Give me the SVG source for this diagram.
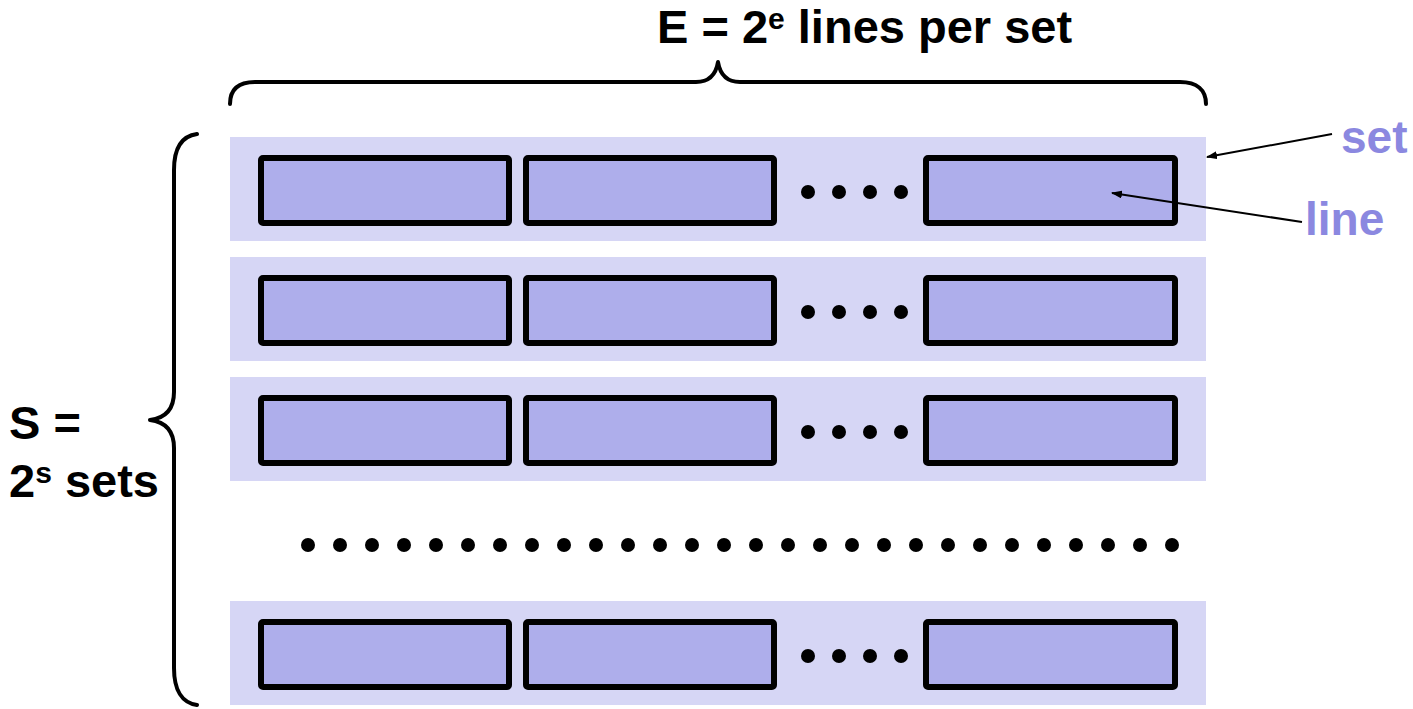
<svg xmlns="http://www.w3.org/2000/svg" width="1413" height="709" viewBox="0 0 1413 709">
<style>
.setbg{fill:#d6d6f5}
.ln{fill:#aeaeeb;stroke:#000;stroke-width:6;stroke-linejoin:round}
.dot{fill:#000}
.brace{fill:none;stroke:#000;stroke-width:4;stroke-linecap:round;stroke-linejoin:round}
.t{font-family:"Liberation Sans",Arial,sans-serif;font-weight:bold;font-size:47px;fill:#000}
.lbl{font-family:"Liberation Sans",Arial,sans-serif;font-weight:bold;font-size:46px;fill:#8b88e0}
.arr{stroke:#000;stroke-width:2;fill:none}
</style>
<defs>
<marker id="ah" markerWidth="11" markerHeight="8" refX="10" refY="4" orient="auto" markerUnits="userSpaceOnUse">
<path d="M0,0 L11,4 L0,8 Z" fill="#000"/>
</marker>
<g id="row">
<rect class="setbg" x="230" y="0" width="976" height="104"/>
<rect class="ln" x="261" y="21" width="248" height="65" rx="2"/>
<rect class="ln" x="526" y="21" width="248" height="65" rx="2"/>
<rect class="ln" x="926" y="21" width="249" height="65" rx="2"/>
<circle class="dot" cx="808" cy="55" r="7"/>
<circle class="dot" cx="839" cy="55" r="7"/>
<circle class="dot" cx="870" cy="55" r="7"/>
<circle class="dot" cx="901" cy="55" r="7"/>
</g>
</defs>
<g id="set1"><use href="#row" x="0" y="137"/></g>
<g id="set2"><use href="#row" x="0" y="257"/></g>
<g id="set3"><use href="#row" x="0" y="377"/></g>
<g id="setN"><use href="#row" x="0" y="601"/></g>
<g id="vdots">
<circle class="dot" cx="308" cy="545" r="7"/><circle class="dot" cx="340" cy="545" r="7"/><circle class="dot" cx="372" cy="545" r="7"/><circle class="dot" cx="404" cy="545" r="7"/><circle class="dot" cx="436" cy="545" r="7"/><circle class="dot" cx="468" cy="545" r="7"/><circle class="dot" cx="500" cy="545" r="7"/><circle class="dot" cx="532" cy="545" r="7"/><circle class="dot" cx="564" cy="545" r="7"/><circle class="dot" cx="596" cy="545" r="7"/><circle class="dot" cx="628" cy="545" r="7"/><circle class="dot" cx="660" cy="545" r="7"/><circle class="dot" cx="692" cy="545" r="7"/><circle class="dot" cx="724" cy="545" r="7"/><circle class="dot" cx="756" cy="545" r="7"/><circle class="dot" cx="788" cy="545" r="7"/><circle class="dot" cx="820" cy="545" r="7"/><circle class="dot" cx="852" cy="545" r="7"/><circle class="dot" cx="884" cy="545" r="7"/><circle class="dot" cx="916" cy="545" r="7"/><circle class="dot" cx="948" cy="545" r="7"/><circle class="dot" cx="980" cy="545" r="7"/><circle class="dot" cx="1012" cy="545" r="7"/><circle class="dot" cx="1044" cy="545" r="7"/><circle class="dot" cx="1076" cy="545" r="7"/><circle class="dot" cx="1108" cy="545" r="7"/><circle class="dot" cx="1140" cy="545" r="7"/><circle class="dot" cx="1172" cy="545" r="7"/>
</g>
<g id="topbrace">
<path class="brace" d="M230,104 C230,90 238,82 255,82 L696,82 C710,82 716,74 718,62 C720,74 726,82 740,82 L1180,82 C1197,82 1206,90 1206,104"/>
<text class="t" x="657" y="43">E = 2<tspan font-size="30" dy="-14">e</tspan><tspan dy="14"> lines per set</tspan></text>
</g>
<g id="leftbrace">
<path class="brace" d="M197,134 C182,136 174,148 174,170 L174,392 C174,408 166,418 150,420 C166,422 174,432 174,448 L174,668 C174,690 182,703 197,705"/>
<text class="t" x="9" y="439">S =</text>
<text class="t" x="9" y="497">2<tspan font-size="30" dy="-14">s</tspan><tspan dy="14"> sets</tspan></text>
</g>
<g id="connectors">
<line class="arr" x1="1332" y1="134" x2="1207" y2="157" marker-end="url(#ah)"/>
<line class="arr" x1="1302" y1="222" x2="1112" y2="193" marker-end="url(#ah)"/>
</g>
<g id="labels">
<text class="lbl" x="1341" y="153">set</text>
<text class="lbl" x="1305" y="235">line</text>
</g>
</svg>
